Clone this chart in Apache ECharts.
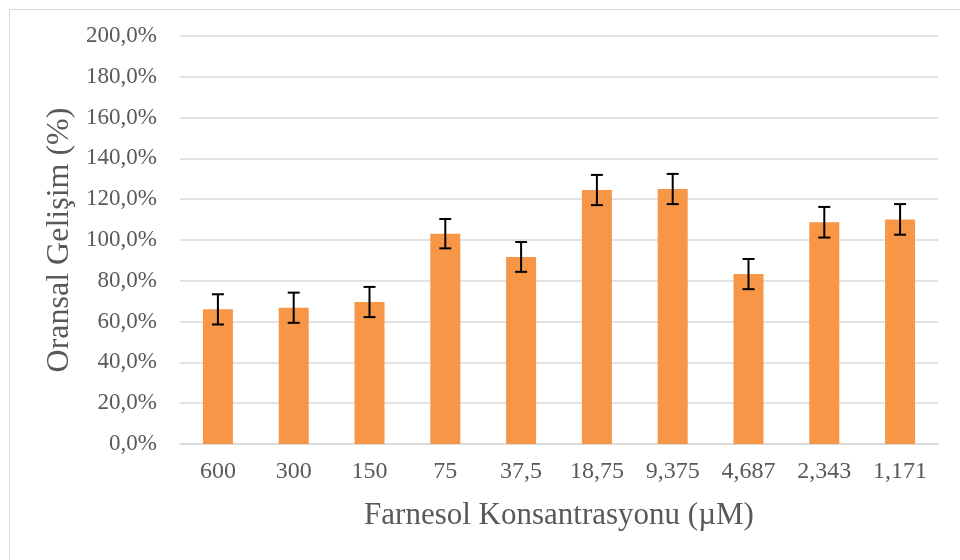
<!DOCTYPE html>
<html>
<head>
<meta charset="utf-8">
<script src="https://cdn.jsdelivr.net/npm/echarts@6/dist/echarts.min.js"></script>
<style>
  html, body { margin: 0; padding: 0; background: #fff; }
  #main { width: 960px; height: 560px; }
</style>
</head>
<body>
<div id="main"></div>
<script>
// Farnesol concentrations (µM), as shown on the x axis
const categories = ['600', '300', '150', '75', '37,5', '18,75', '9,375', '4,687', '2,343', '1,171'];
// Relative growth (%) and its error (±)
const growth = [66.0, 66.8, 69.6, 103.1, 91.7, 124.5, 125.0, 83.3, 108.7, 110.1];
const errors = [7.4, 7.4, 7.4, 7.2, 7.3, 7.4, 7.4, 7.4, 7.5, 7.5];

const textColor = '#595959';
const fontFamily = '"Liberation Serif", "Times New Roman", serif';

let chartDom = document.getElementById('main');
let myChart = echarts.init(chartDom);

// error bar data: [index, low, high]
const errData = growth.map((v, i) => [i, v - errors[i], v + errors[i]]);

let option = {
    backgroundColor: '#fff',
    animation: false,
    graphic: [
        {
            type: 'rect',
            left: 7,
            top: 7,
            shape: { width: 1000, height: 1000 },
            style: { fill: 'none', stroke: '#d9d9d9', lineWidth: 1 },
            z: -10
        }
    ],
    grid: { left: 180, right: 22, top: 36, bottom: 116 },
    xAxis: {
        type: 'category',
        data: categories,
        name: 'Farnesol Konsantrasyonu (µM)',
        nameLocation: 'middle',
        nameGap: 56,
        nameTextStyle: { color: textColor, fontFamily: fontFamily, fontSize: 31 },
        axisLine: { lineStyle: { color: '#d9d9d9', width: 1.5 } },
        axisTick: { show: false },
        axisLabel: { color: textColor, fontFamily: fontFamily, fontSize: 24, margin: 16, interval: 0 }
    },
    yAxis: {
        type: 'value',
        min: 0,
        max: 200,
        interval: 20,
        name: 'Oransal Gelişim (%)',
        nameLocation: 'middle',
        nameGap: 104,
        nameTextStyle: { color: textColor, fontFamily: fontFamily, fontSize: 32 },
        axisLine: { show: false },
        axisTick: { show: false },
        axisLabel: {
            color: textColor,
            fontFamily: fontFamily,
            fontSize: 23,
            margin: 23,
            formatter: v => v.toFixed(1).replace('.', ',') + '%'
        },
        splitLine: { lineStyle: { color: '#d9d9d9', width: 1.5 } }
    },
    series: [
        {
            type: 'bar',
            data: growth,
            barWidth: 30,
            itemStyle: { color: '#F79646' },
            z: 2
        },
        {
            type: 'custom',
            data: errData,
            z: 5,
            renderItem: (params, api) => {
                const x = api.value(0);
                const low = api.coord([x, api.value(1)]);
                const high = api.coord([x, api.value(2)]);
                const half = 6;
                const style = { stroke: '#000', lineWidth: 2 };
                return {
                    type: 'group',
                    children: [
                        { type: 'line', shape: { x1: low[0], y1: low[1], x2: high[0], y2: high[1] }, style: style },
                        { type: 'line', shape: { x1: low[0] - half, y1: low[1], x2: low[0] + half, y2: low[1] }, style: style },
                        { type: 'line', shape: { x1: high[0] - half, y1: high[1], x2: high[0] + half, y2: high[1] }, style: style }
                    ]
                };
            }
        }
    ]
};

myChart.setOption(option);
</script>
</body>
</html>
